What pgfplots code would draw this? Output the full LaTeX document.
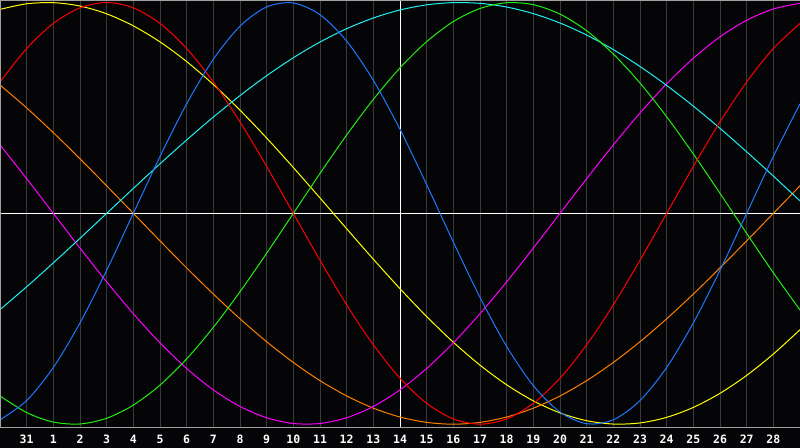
\documentclass[border=0pt]{standalone}
\usepackage{fontspec}
\newfontfamily\lblfont{DejaVu Sans Mono}
\usepackage{pgfplots}
\usepackage{pgfplotstable}
\pgfplotsset{compat=1.18}
\usetikzlibrary{calc,backgrounds}

\definecolor{bg}{HTML}{050508}
\definecolor{gridgray}{HTML}{3A3A3A}
\definecolor{bordergray}{HTML}{A0A0A0}
\definecolor{cphy}{HTML}{1E78FF}
\definecolor{cemo}{HTML}{FF0000}
\definecolor{cint}{HTML}{22EE11}
\definecolor{cintu}{HTML}{FF00FF}
\definecolor{caes}{HTML}{FFFF00}
\definecolor{cawa}{HTML}{FF7F00}
\definecolor{cspi}{HTML}{20F0F0}

% day index u (0..30), one column per cycle
\pgfplotstableread{
u  P       E       I       N       A       W       S
0  -0.9791  0.6235 -0.8660  0.3247  0.9675  0.6088 -0.4566
1  -0.8879  0.7818 -0.9450  0.1646  0.9940  0.5000 -0.3482
2  -0.7308  0.9010 -0.9898  0.0000  0.9993  0.3827 -0.2349
3  -0.5196  0.9749 -0.9989 -0.1646  0.9834  0.2588 -0.1183
4  -0.2698  1.0000 -0.9718 -0.3247  0.9465  0.1305  0.0000
5   0.0000  0.9749 -0.9096 -0.4759  0.8893  0.0000  0.1183
6   0.2698  0.9010 -0.8146 -0.6142  0.8133 -0.1305  0.2349
7   0.5196  0.7818 -0.6901 -0.7357  0.7199 -0.2588  0.3482
8   0.7308  0.6235 -0.5406 -0.8372  0.6112 -0.3827  0.4566
9   0.8879  0.4339 -0.3717 -0.9158  0.4894 -0.5000  0.5586
10  0.9791  0.2225 -0.1893 -0.9694  0.3572 -0.6088  0.6529
11  0.9977  0.0000  0.0000 -0.9966  0.2174 -0.7071  0.7380
12  0.9423 -0.2225  0.1893 -0.9966  0.0730 -0.7934  0.8126
13  0.8170 -0.4339  0.3717 -0.9694 -0.0730 -0.8660  0.8758
14  0.6311 -0.6235  0.5406 -0.9158 -0.2174 -0.9239  0.9267
15  0.3984 -0.7818  0.6901 -0.8372 -0.3572 -0.9659  0.9646
16  0.1362 -0.9010  0.8146 -0.7357 -0.4894 -0.9914  0.9890
17 -0.1362 -0.9749  0.9096 -0.6142 -0.6112 -1.0000  0.9996
18 -0.3984 -1.0000  0.9718 -0.4759 -0.7199 -0.9914  0.9960
19 -0.6311 -0.9749  0.9989 -0.3247 -0.8133 -0.9659  0.9786
20 -0.8170 -0.9010  0.9898 -0.1646 -0.8893 -0.9239  0.9473
21 -0.9423 -0.7818  0.9450  0.0000 -0.9465 -0.8660  0.9028
22 -0.9977 -0.6235  0.8660  0.1646 -0.9834 -0.7934  0.8456
23 -0.9791 -0.4339  0.7557  0.3247 -0.9993 -0.7071  0.7767
24 -0.8879 -0.2225  0.6182  0.4759 -0.9940 -0.6088  0.6966
25 -0.7308  0.0000  0.4582  0.6142 -0.9675 -0.5000  0.6068
26 -0.5196  0.2225  0.2817  0.7357 -0.9203 -0.3827  0.5085
27 -0.2698  0.4339  0.0951  0.8372 -0.8535 -0.2588  0.4031
28  0.0000  0.6235 -0.0951  0.9158 -0.7686 -0.1305  0.2920
29  0.2698  0.7818 -0.2817  0.9694 -0.6673  0.0000  0.1769
30  0.5196  0.9010 -0.4582  0.9966 -0.5517  0.1305  0.0592
}\cycles

\begin{document}
\begin{tikzpicture}
\begin{axis}[
    name=bio,
    width=800pt, height=428pt, scale only axis,
    xmin=0, xmax=30, ymin=-1.018, ymax=1.012,
    axis line style={draw=none},
    ytick=\empty,
    xtick={1,...,29},
    xticklabels={31,1,2,3,4,5,6,7,8,9,10,11,12,13,14,15,16,17,18,19,20,21,22,23,24,25,26,27,28},
    major tick length=0pt,
    xmajorgrids,
    grid style={gridgray, line width=1pt},
    xticklabel style={font=\lblfont\bfseries\fontsize{11.5}{13}\selectfont,
        text=white, anchor=north, inner sep=0pt, yshift=-7pt},
    extra x ticks={15}, extra x tick labels={},
    extra x tick style={grid=major, major grid style={white, line width=1pt}},
    extra y ticks={0}, extra y tick labels={},
    extra y tick style={grid=major, major grid style={white, line width=1pt}},
    every axis plot/.append style={line width=1pt, smooth, no marks},
]
\addplot[caes]  table[x=u, y=A] {\cycles};
\addplot[cawa]  table[x=u, y=W] {\cycles};
\addplot[cintu] table[x=u, y=N] {\cycles};
\addplot[cspi]  table[x=u, y=S] {\cycles};
\addplot[cint]  table[x=u, y=I] {\cycles};
\addplot[cemo]  table[x=u, y=E] {\cycles};
\addplot[cphy]  table[x=u, y=P] {\cycles};
\end{axis}
\begin{pgfonlayer}{background}
\fill[bg] ($(bio.south west)+(0,-20pt)$) rectangle (bio.north east);
\end{pgfonlayer}
\draw[bordergray, line width=1pt] ($(bio.south west)+(0.5pt,0)$) -- ($(bio.north west)+(0.5pt,0)$);
\draw[bordergray, line width=1pt] ($(bio.north west)+(0,-0.5pt)$) -- ($(bio.north east)+(0,-0.5pt)$);
\draw[bordergray, line width=1pt] (bio.south west) -- (bio.south east);
\pgfresetboundingbox
\path[use as bounding box] ($(bio.south west)+(0,-20pt)$) rectangle (bio.north east);
\end{tikzpicture}
\end{document}
